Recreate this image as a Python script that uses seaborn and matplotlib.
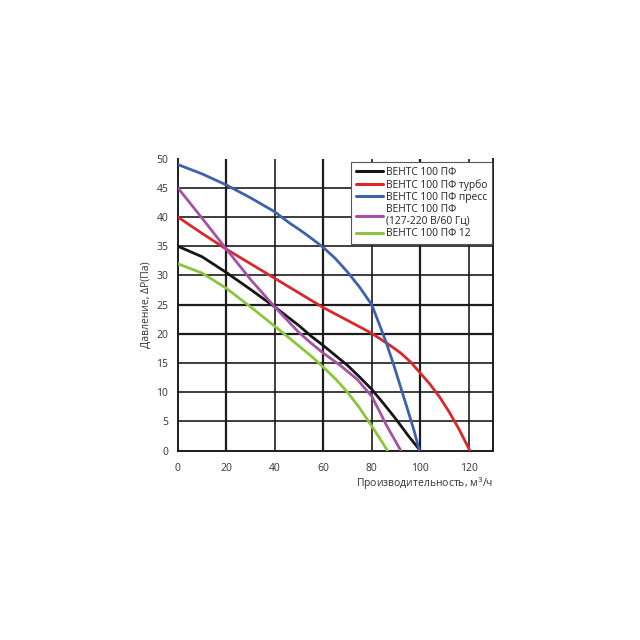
import matplotlib
matplotlib.use("Agg")
import matplotlib.pyplot as plt
import pandas as pd
import seaborn as sns

# curves (flow m3/h, pressure Pa)
names = ["ВЕНТС 100 ПФ", "ВЕНТС 100 ПФ турбо", "ВЕНТС 100 ПФ пресс",
         "ВЕНТС 100 ПФ\n(127-220 В/60 Гц)", "ВЕНТС 100 ПФ 12"]
colors = ["#161616", "#d8282a", "#3d62a8", "#a552a6", "#8cc43e"]

black_x = [0, 10, 20, 30, 40, 50, 55, 60, 65, 70, 75, 80, 85, 90, 95, 100]
black_y = [35, 33.2, 30.5, 27.6, 24.6, 21.4, 19.6, 18.0, 16.3, 14.6, 12.6, 10.5, 8.0, 5.4, 2.6, 0]

red_x = [0, 10, 20, 30, 40, 50, 60, 70, 80, 88, 92, 96, 100, 104, 108, 112, 116, 120.5]
red_y = [40, 37.2, 34.5, 32, 29.5, 27, 24.5, 22.3, 20.1, 17.9, 16.7, 15.2, 13.3, 11.4, 9.2, 6.6, 3.7, 0]

blue_x = [0, 10, 20, 30, 40, 46, 50, 55, 60, 65, 70, 75, 80, 83, 86, 89, 92, 95, 97.5, 99.7]
blue_y = [49, 47.4, 45.5, 43.3, 40.9, 39.0, 37.9, 36.4, 34.8, 32.9, 30.6, 28.0, 25.0, 21.8, 18.5, 14.8, 10.8, 6.8, 3.4, 0]

purple_x = [0, 10, 20, 30, 40, 50, 55, 60, 67, 74, 80, 83, 86, 89, 92]
purple_y = [45, 39.8, 34.5, 29.3, 24.6, 20.2, 18.4, 16.7, 14.6, 12.2, 9.3, 6.9, 4.4, 2.2, 0]

green_x = [0, 10, 20, 30, 40, 50, 55, 60, 65, 70, 75, 80, 83, 86.5]
green_y = [32, 30.4, 27.8, 24.6, 21.3, 17.9, 16.2, 14.3, 12.3, 10.0, 7.3, 4.2, 2.3, 0]

series_x = [black_x, red_x, blue_x, purple_x, green_x]
series_y = [black_y, red_y, blue_y, purple_y, green_y]

rows = []
for n, xs, ys in zip(names, series_x, series_y):
    for a, b in zip(xs, ys):
        rows.append({"q": a, "p": b, "fan": n})
df = pd.DataFrame(rows)

sns.set_style("white")
plt.rcParams["font.family"] = ["Open Sans", "DejaVu Sans"]

fig = plt.figure(figsize=(6.4, 6.4), dpi=100)
ax = fig.add_axes([0.278, 0.296, 0.492, 0.456])

sns.lineplot(data=df, x="q", y="p", hue="fan", hue_order=names,
             palette=colors, linewidth=2.0, sort=True, estimator=None,
             ax=ax, zorder=3)

ax.set_xlim(0, 130)
ax.set_ylim(0, 50)
ax.set_xticks(range(0, 121, 20))
ax.set_yticks(range(0, 51, 5))
for v in range(20, 121, 20):
    ax.axvline(v, color="#1c1c1c", lw=1.6 if v in (20, 60, 100) else 1.2, zorder=1)
for v in range(5, 46, 5):
    ax.axhline(v, color="#1c1c1c", lw=1.6 if v in (20, 25) else 1.2, zorder=1)

for side in ["left", "bottom", "right"]:
    ax.spines[side].set_color("#1c1c1c")
    ax.spines[side].set_linewidth(1.4)
ax.spines["top"].set_visible(False)

ax.tick_params(axis="both", direction="out", length=3, width=1,
               color="#1c1c1c", labelsize=7.5, labelcolor="#333333", pad=4)
ax.tick_params(axis="x", pad=6)

ax.set_xlabel("Производительность, м$^3$/ч", fontsize=7.5, color="#333333",
              loc="right", labelpad=1)
ax.set_ylabel("Давление, ΔР(Па)", fontsize=7.5, color="#333333", labelpad=3)

leg = ax.legend(loc="upper right", bbox_to_anchor=(0.997, 0.988), fontsize=7.4,
                frameon=True, fancybox=False, handlelength=2.6,
                handletextpad=0.3, labelspacing=0.1, borderpad=0.45,
                borderaxespad=0.0, edgecolor="#555555", framealpha=1)
leg.get_frame().set_linewidth(0.8)
for line in leg.get_lines():
    line.set_linewidth(2.2)
for t in leg.get_texts():
    t.set_color("#222222")

fig.savefig("out.png", dpi=100, facecolor="white")
